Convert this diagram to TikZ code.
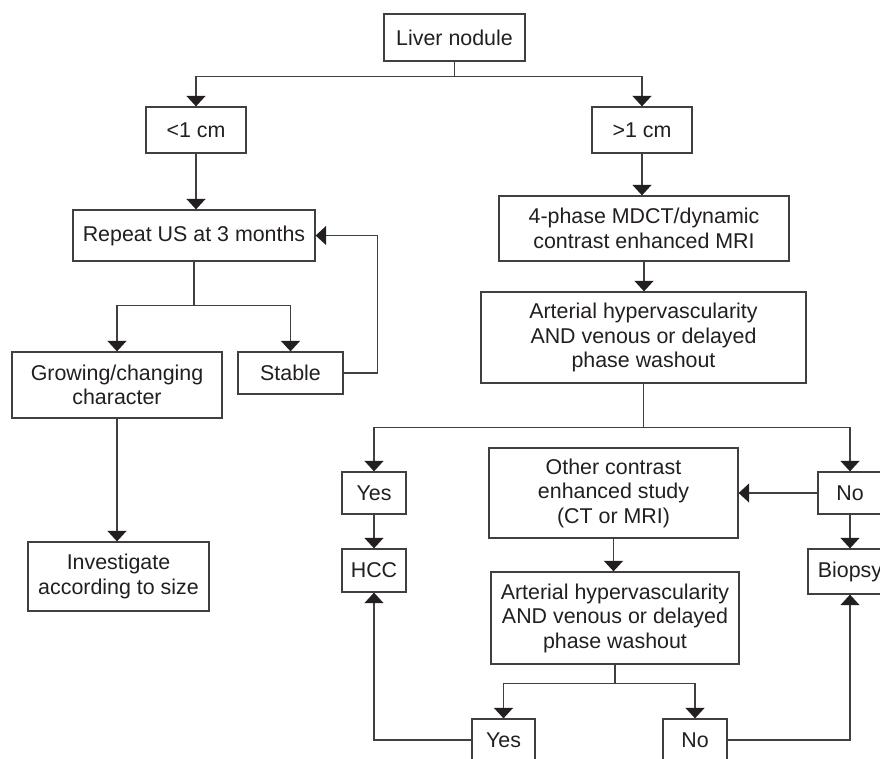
\documentclass[tikz,border=0pt]{standalone}
\usepackage{fontspec}
\setmainfont{Liberation Sans}
\usetikzlibrary{arrows.meta}
\definecolor{linec}{gray}{0.25}
\definecolor{textc}{HTML}{231F20}
\begin{document}
\begin{tikzpicture}[x=1pt,y=-1pt,
  box/.style={draw=linec,line width=1.3pt,inner sep=0pt,align=center,text=textc,
    font=\fontsize{21.4}{24.5}\selectfont},
  conn/.style={draw=linec,line width=1.3pt},
  arr/.style={conn,-{Triangle[width=19pt,length=10.5pt,color=textc]}}]
\useasboundingbox[fill=white] (0,0) rectangle (880,758);
% nodes
\node[box,minimum width=141pt,minimum height=47pt] (liver) at (454.5,37.5) {Liver nodule};
\node[box,minimum width=100pt,minimum height=46pt] (lt1) at (196,130) {<1 cm};
\node[box,minimum width=100pt,minimum height=46pt] (gt1) at (642,130) {>1 cm};
\node[box,minimum width=242pt,minimum height=51pt] (rep) at (194,235.5) {Repeat US at 3 months};
\node[box,minimum width=210pt,minimum height=66pt] (grow) at (117,385) {Growing/changing\\character};
\node[box,minimum width=105pt,minimum height=42pt] (stable) at (290.5,373) {Stable};
\node[box,minimum width=181pt,minimum height=69pt] (inv) at (118.5,576.5) {Investigate\\according to size};
\node[box,minimum width=290pt,minimum height=65pt] (mdct) at (644,228.5) {4-phase MDCT/dynamic\\contrast enhanced MRI};
\node[box,minimum width=325pt,minimum height=91pt] (art1) at (643.5,337.5) {Arterial hypervascularity\\AND venous or delayed\\phase washout};
\node[box,minimum width=64pt,minimum height=42pt] (yes1) at (374,493) {Yes};
\node[box,minimum width=64pt,minimum height=43pt] (hcc) at (374,570.5) {HCC};
\node[box,minimum width=64pt,minimum height=42pt] (no1) at (850,493) {No};
\node[box,minimum width=84pt,minimum height=45pt] (biopsy) at (850,571.5) {Biopsy};
\node[box,minimum width=249pt,minimum height=90pt] (other) at (613.5,493) {Other contrast\\enhanced study\\(CT or MRI)};
\node[box,minimum width=248pt,minimum height=92pt] (art2) at (615,618) {Arterial hypervascularity\\AND venous or delayed\\phase washout};
\node[box,minimum width=63pt,minimum height=42pt] (yes2) at (503.5,740) {Yes};
\node[box,minimum width=64pt,minimum height=42pt] (no2) at (695,740) {No};
% connectors
\draw[conn] (liver.south) -- ++(0,15) coordinate (j1);
\draw[arr] (j1) -| (lt1.north);
\draw[arr] (j1) -| (gt1.north);
\draw[arr] (lt1.south) -- (lt1.south |- rep.north);
\draw[conn] (rep.south) -- ++(0,44) coordinate (j2);
\draw[arr] (j2) -| (grow.north);
\draw[arr] (j2) -| (stable.north);
\draw[arr] (stable.east) -- ++(34,0) |- (rep.east);
\draw[arr] (grow.south) -- (grow.south |- inv.north);
\draw[arr] (gt1.south) -- (gt1.south |- mdct.north);
\draw[arr] (mdct.south) -- (mdct.south |- art1.north);
\draw[conn] (art1.south) -- ++(0,44) coordinate (j3);
\draw[arr] (j3) -| (yes1.north);
\draw[arr] (j3) -| (no1.north);
\draw[arr] (yes1.south) -- (hcc.north);
\draw[arr] (no1.west) -- (other.east |- no1.west);
\draw[arr] (no1.south) -- (no1.south |- biopsy.north);
\draw[arr] (other.south) -- (other.south |- art2.north);
\draw[conn] (art2.south) -- ++(0,19) coordinate (j4);
\draw[arr] (j4) -| (yes2.north);
\draw[arr] (j4) -| (no2.north);
\draw[arr] (yes2.west) -| (hcc.south);
\draw[arr] (no2.east) -| (biopsy.south);
\end{tikzpicture}
\end{document}
